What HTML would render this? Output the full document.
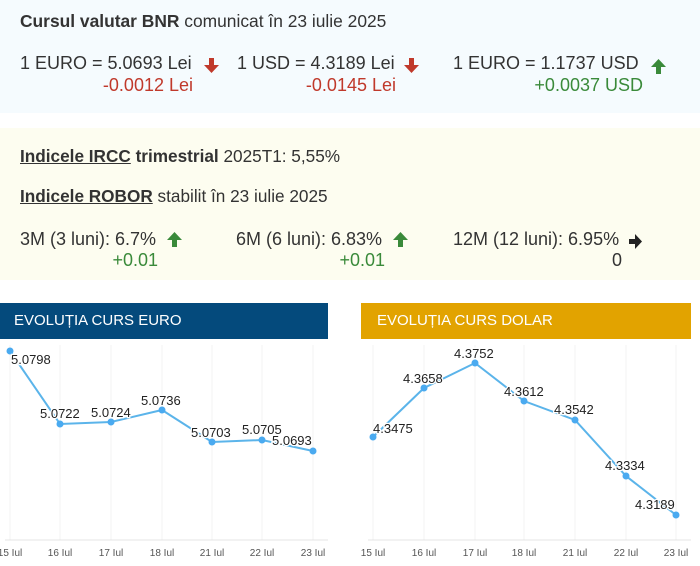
<!DOCTYPE html>
<html><head><meta charset="utf-8"><style>
body{margin:0;width:700px;height:566px;background:#fff;font-family:"Liberation Sans",Arial,sans-serif;position:relative;overflow:hidden;color:#333}
.a{position:absolute;white-space:nowrap}
.red{color:#c0392b}.grn{color:#3a8a3a}
.r{position:absolute;white-space:nowrap;text-align:right;font-size:18px}
</style></head><body>
<div class="a" style="left:0;top:0;width:700px;height:113px;background:#f5fbfe"></div>
<div class="a" style="left:0;top:128px;width:700px;height:152px;background:#fdfdf0"></div>
<div class="a" style="left:20px;top:11px;font-size:17.4px"><b>Cursul valutar BNR</b> comunicat în 23 iulie 2025</div>
<div class="a" style="left:20px;top:53px;font-size:18px">1 EURO = 5.0693 Lei</div>
<div class="r red" style="right:507px;top:75px">-0.0012 Lei</div>
<div class="a" style="left:237px;top:53px;font-size:18px">1 USD = 4.3189 Lei</div>
<div class="r red" style="right:304px;top:75px">-0.0145 Lei</div>
<div class="a" style="left:453px;top:53px;font-size:18px">1 EURO = 1.1737 USD</div>
<div class="r grn" style="right:57px;top:75px">+0.0037 USD</div>
<svg class="a" style="left:0;top:0" width="700" height="300">
<g fill="#c0392b"><path d="M209 58h5v7h5l-7.5 8-7.5-8h5z"/><path d="M409 58h5v7h5l-7.5 8-7.5-8h5z"/></g>
<g fill="#3a8a3a"><path d="M656 74h5v-7h5l-7.5-8-7.5 8h5z"/><path d="M172 247h5v-7h5l-7.5-8-7.5 8h5z"/><path d="M398 247h5v-7h5l-7.5-8-7.5 8h5z"/></g>
<path d="M629 239h6v-5l7 7.5-7 7.5v-5h-6z" fill="#222"/>
</svg>
<div class="a" style="left:20px;top:146px;font-size:17.2px"><b style="text-decoration:underline">Indicele IRCC</b> <b>trimestrial</b> 2025T1: 5,55%</div>
<div class="a" style="left:20px;top:186px;font-size:17.2px"><b style="text-decoration:underline">Indicele ROBOR</b> stabilit în 23 iulie 2025</div>
<div class="a" style="left:20px;top:229px;font-size:18px">3M (3 luni): 6.7%</div>
<div class="r grn" style="right:542px;top:250px">+0.01</div>
<div class="a" style="left:236px;top:229px;font-size:18px">6M (6 luni): 6.83%</div>
<div class="r grn" style="right:315px;top:250px">+0.01</div>
<div class="a" style="left:453px;top:229px;font-size:18px">12M (12 luni): 6.95%</div>
<div class="r" style="right:78px;top:250px">0</div>
<div class="a" style="left:0;top:303px;width:328px;height:36px;background:#044a7c"></div>
<div class="a" style="left:14px;top:312px;font-size:15px;color:#fff">EVOLUȚIA CURS EURO</div>
<div class="a" style="left:361px;top:303px;width:330px;height:36px;background:#e2a300"></div>
<div class="a" style="left:377px;top:312px;font-size:15px;color:#fff">EVOLUȚIA CURS DOLAR</div>
<svg class="a" style="left:0;top:0" width="700" height="566" font-family="Liberation Sans,Arial,sans-serif">
<g stroke="#f3f3f3"><path d="M10 345V540M60 345V540M111 345V540M162 345V540M212 345V540M262 345V540M313 345V540"/>
<path d="M373 345V540M424 345V540M475 345V540M524 345V540M575 345V540M626 345V540M676 345V540"/></g>
<g stroke="#e4e4e4"><path d="M5 540H328M368 540H691"/></g>
<g font-size="10" fill="#555" text-anchor="middle">
<text x="10" y="556">15 Iul</text><text x="60" y="556">16 Iul</text><text x="111" y="556">17 Iul</text><text x="162" y="556">18 Iul</text><text x="212" y="556">21 Iul</text><text x="262" y="556">22 Iul</text><text x="313" y="556">23 Iul</text>
<text x="373" y="556">15 Iul</text><text x="424" y="556">16 Iul</text><text x="475" y="556">17 Iul</text><text x="524" y="556">18 Iul</text><text x="575" y="556">21 Iul</text><text x="626" y="556">22 Iul</text><text x="676" y="556">23 Iul</text>
</g>
<g fill="none" stroke="#5bb4ea" stroke-width="2">
<polyline points="10,351 60,424 111,422 162,410 212,442 262,440 313,451"/>
<polyline points="373,437 424,388 475,363 524,401 575,420 626,476 676,515"/>
</g>
<g fill="#4aaaf0">
<circle cx="10" cy="351" r="3.5"/><circle cx="60" cy="424" r="3.5"/><circle cx="111" cy="422" r="3.5"/><circle cx="162" cy="410" r="3.5"/><circle cx="212" cy="442" r="3.5"/><circle cx="262" cy="440" r="3.5"/><circle cx="313" cy="451" r="3.5"/>
<circle cx="373" cy="437" r="3.5"/><circle cx="424" cy="388" r="3.5"/><circle cx="475" cy="363" r="3.5"/><circle cx="524" cy="401" r="3.5"/><circle cx="575" cy="420" r="3.5"/><circle cx="626" cy="476" r="3.5"/><circle cx="676" cy="515" r="3.5"/>
</g>
<g font-size="13" fill="#222" stroke="#fff" stroke-width="2.5" paint-order="stroke">
<text x="11" y="364">5.0798</text><text x="40" y="418">5.0722</text><text x="91" y="417">5.0724</text><text x="141" y="405">5.0736</text><text x="191" y="437">5.0703</text><text x="242" y="434">5.0705</text><text x="272" y="445">5.0693</text>
<text x="373" y="433">4.3475</text><text x="403" y="383">4.3658</text><text x="454" y="358">4.3752</text><text x="504" y="396">4.3612</text><text x="554" y="414">4.3542</text><text x="605" y="470">4.3334</text><text x="635" y="509">4.3189</text>
</g>
</svg>
</body></html>
